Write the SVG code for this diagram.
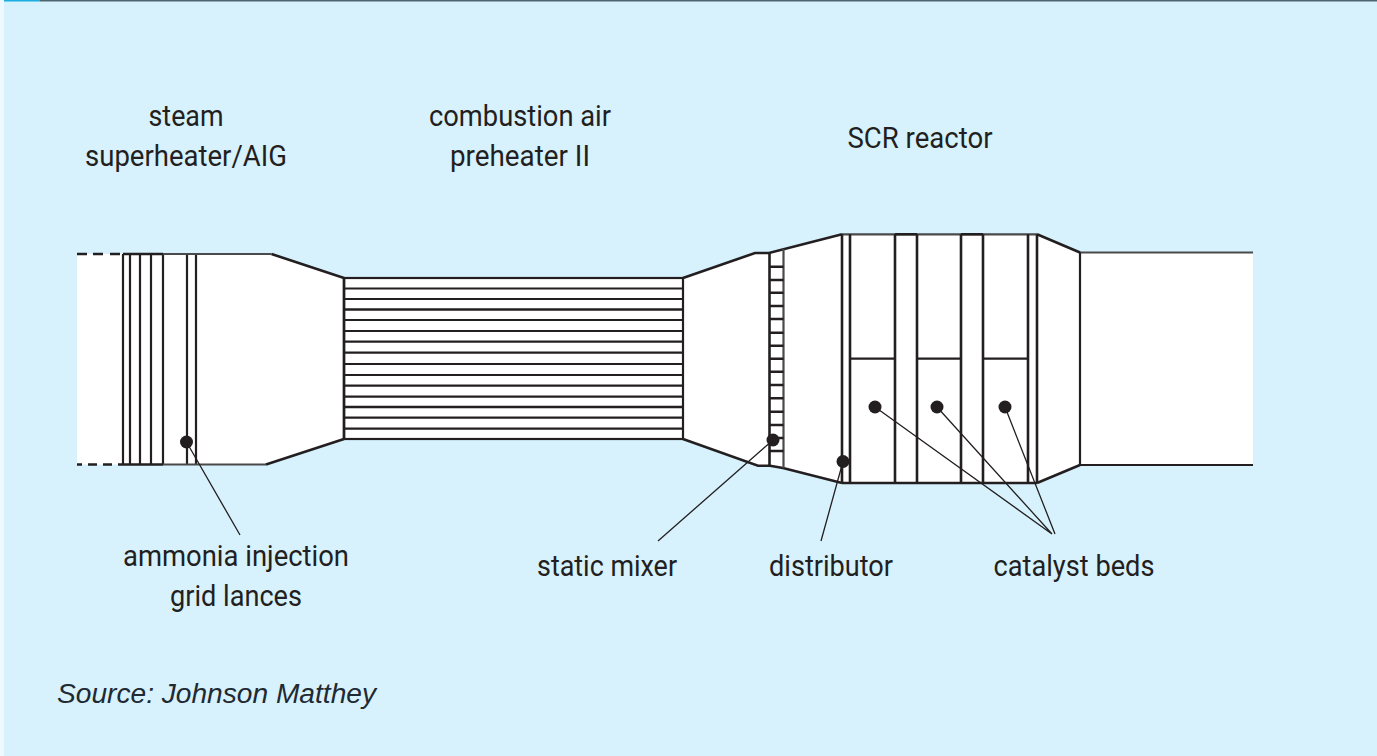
<svg xmlns="http://www.w3.org/2000/svg" width="1377" height="756" viewBox="0 0 1377 756">
<style>
.l{fill:none;stroke:#231f20;stroke-width:2.200}
.h{fill:none;stroke:#231f20;stroke-width:2.600}
.g{fill:none;stroke:#4a4a4c;stroke-width:2.200}
.t{stroke:#231f20;stroke-width:1.300;fill:none}
.d{fill:#231f20}
text{font-family:"Roboto","Liberation Sans",sans-serif;font-size:29px;fill:#231f20;text-anchor:middle}
.s{font-family:"Liberation Sans",Arial,sans-serif;font-style:italic;font-size:27px;text-anchor:start;fill:#1f2a33}
</style>
<rect x="0" y="0" width="1377" height="756" fill="#d7f2fd"/>
<rect x="0" y="0" width="4" height="756" fill="#eef9fe"/>
<rect x="4" y="0" width="36" height="1.500" fill="#1aaee0"/>
<rect x="40" y="0" width="1337" height="1.500" fill="#4e6570"/>
<g id="duct">
<path d="M77 254H271.500L344 278V439L266 464.500H77Z" fill="#fff"/>
<path d="M344 278H683V439H344Z" fill="#fff"/>
<path d="M683 278L755 253H769L842 234.300H1037L1080 252.500H1253V465H1080L1037 483H842L783 468L770 465.700H758L683 439Z" fill="#fff"/>
</g>
<g id="superheater">
<path class="l" d="M123 254V464.500M130 254V464.500M140 254V464.500M151 254V464.500M163 254V464.500M187 254V464.500M196 254V464.500"/>
<path class="h" d="M123 254H163M118 464.500H163"/>
<path class="g" d="M163 254H271.500M163 464.500H266"/>
<path class="h" d="M271.500 254L344 278M266 464.500L344 439"/>
<path class="h" d="M77 254H87M93 254H103M110 254H120"/>
<path class="h" d="M77 464.500H82M88 464.500H97M103 464.500H112"/>
</g>
<g id="preheater">
<rect class="l" x="344" y="278" width="339" height="161"/>
<path class="h" d="M344 278V439"/>
<path class="l" d="M344 288.500H683M344 299H683M344 320H683M344 331H683M344 341.700H683M344 352.700H683M344 364H683M344 375H683M344 385.700H683M344 396.700H683M344 417.700H683M344 428.700H683"/>
<path class="h" d="M344 309.500H683M344 407H683"/>
</g>
<g id="mixer">
<path class="h" d="M683 278L755 253H769L842 234.300M683 439L758 465.700H770L783 468L842 483"/>
<path class="h" d="M769.500 252V466"/>
<path class="g" d="M783.500 249V468"/>
<path class="h" d="M769.500 266.700H783.500M769.500 280H783.500M769.500 292.700H783.500M769.500 306H783.500M769.500 319H783.500M769.500 332.700H783.500M769.500 345.700H783.500M769.500 358.700H783.500M769.500 371.700H783.500M769.500 385H783.500M769.500 398.300H783.500M769.500 411.700H783.500M769.500 425H783.500M769.500 438H783.500M769.500 451H783.500"/>
</g>
<g id="reactor">
<path class="g" d="M842 234.300H1037M1080 252.500H1253"/>
<path class="h" d="M842 483H1037M895 234.300H917M961 234.300H983"/>
<path class="h" d="M1037 234.300L1080 252.500M1037 483L1080 465"/>
<path class="l" d="M1080 465H1253M1080 252.500V465"/>
<path class="h" d="M842 234.300V483M850 234.300V483M895 234.300V483M917 234.300V483M961 234.300V483M983 234.300V483M1028 234.300V483M1037 234.300V483"/>
<path class="l" d="M850 358.700H895M917 358.700H961M983 358.700H1028"/>
</g>
<g id="connectors">
<path class="t" d="M186.500 442L240 535M773 440L658 541M843 461.500L821 541M875 407L1052 534M937 407L1052 534M1005 407L1055 534"/>
</g>
<g id="dots">
<circle class="d" cx="186.500" cy="442" r="6.500"/>
<circle class="d" cx="773" cy="440" r="6.500"/>
<circle class="d" cx="843" cy="461.500" r="6.500"/>
<circle class="d" cx="875" cy="407" r="6.500"/>
<circle class="d" cx="937" cy="407" r="6.500"/>
<circle class="d" cx="1005" cy="407" r="6.500"/>
</g>
<g id="labels">
<text x="186" y="126" textLength="75" lengthAdjust="spacingAndGlyphs">steam</text>
<text x="186" y="166" textLength="202" lengthAdjust="spacingAndGlyphs">superheater/AIG</text>
<text x="520" y="126" textLength="182" lengthAdjust="spacingAndGlyphs">combustion air</text>
<text x="520" y="166" textLength="140" lengthAdjust="spacingAndGlyphs">preheater II</text>
<text x="920" y="148" textLength="145" lengthAdjust="spacingAndGlyphs">SCR reactor</text>
<text x="236" y="566" textLength="226" lengthAdjust="spacingAndGlyphs">ammonia injection</text>
<text x="236" y="606" textLength="132" lengthAdjust="spacingAndGlyphs">grid lances</text>
<text x="607" y="576" textLength="140" lengthAdjust="spacingAndGlyphs">static mixer</text>
<text x="831" y="576" textLength="124" lengthAdjust="spacingAndGlyphs">distributor</text>
<text x="1074" y="576" textLength="161" lengthAdjust="spacingAndGlyphs">catalyst beds</text>
<text class="s" x="57" y="703" textLength="319" lengthAdjust="spacingAndGlyphs">Source: Johnson Matthey</text>
</g>
</svg>
